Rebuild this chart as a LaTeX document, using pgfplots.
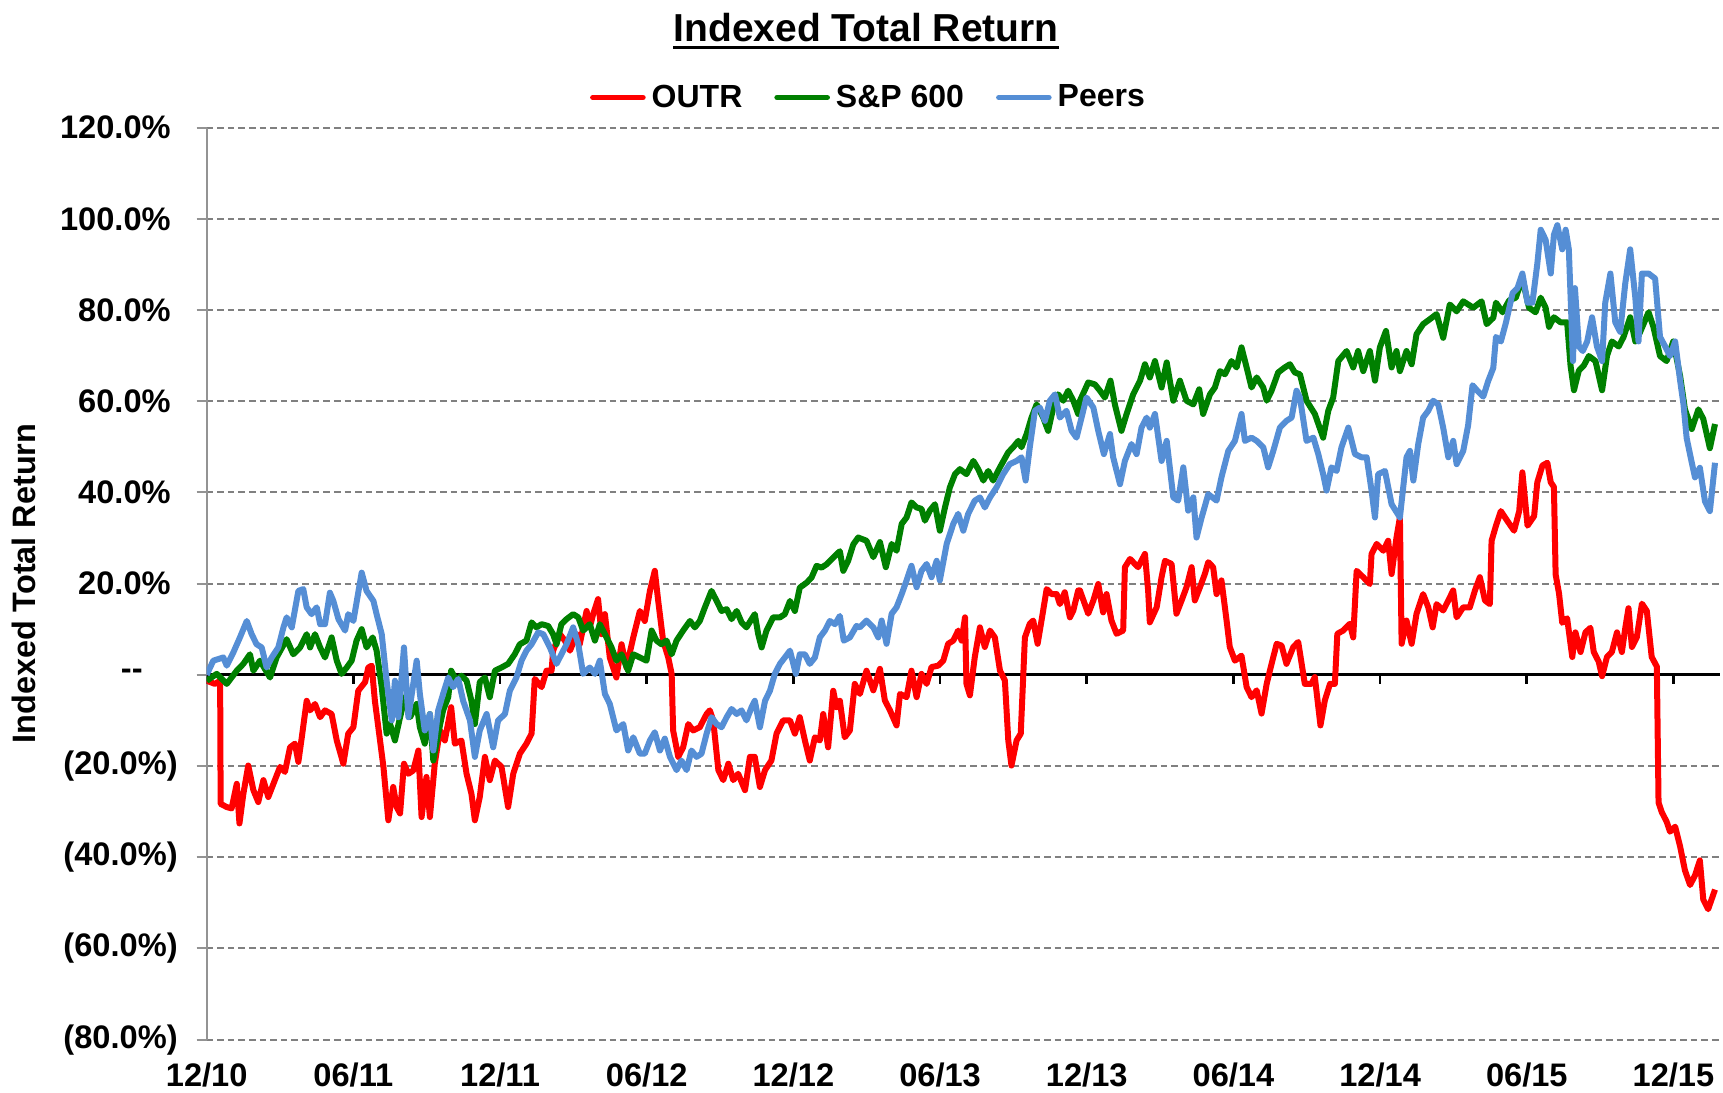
\documentclass[border=0pt]{standalone}
\usepackage{fontspec}
\setmainfont{Liberation Sans}
\usepackage{pgfplots}
\pgfplotsset{compat=1.18}
\definecolor{cred}{RGB}{255,0,0}
\definecolor{cgreen}{RGB}{0,128,0}
\definecolor{cblue}{RGB}{85,142,213}
\begin{document}
\begin{tikzpicture}
\useasboundingbox (-103.35pt,-26.2pt) rectangle (758.15pt,519.8pt);
\begin{axis}[
  at={(0pt,0pt)}, anchor=south west,
  width=756.6pt, height=456pt, scale only axis,
  xmin=0, xmax=61.9, ymin=-80, ymax=120,
  axis x line*=bottom, axis y line*=left,
  x axis line style={draw=none},
  y axis line style={draw=gray!85, line width=1pt},
  xtick={0,6,12,18,24,30,36,42,48,54,60},
  xticklabels={12/10,06/11,12/11,06/12,12/12,06/13,12/13,06/14,12/14,06/15,12/15},
  ytick={-80,-60,-40,-20,0,20,40,60,80,100,120},
  yticklabels={(80.0\%)\kern-3.5pt,(60.0\%)\kern-3.5pt,(40.0\%)\kern-3.5pt,(20.0\%)\kern-3.5pt,{-}{-}\rule{14pt}{0pt},20.0\%,40.0\%,60.0\%,80.0\%,100.0\%,120.0\%},
  xtick style={draw=none},
  ytick style={draw=gray!85, line width=1pt},
  major tick length=5pt, tick align=outside,
  ticklabel style={font=\fontsize{16.3}{19}\selectfont\bfseries},
  yticklabel style={xshift=-9.5pt},
  xticklabel style={yshift=-3pt},
  ymajorgrids,
  grid style={gray, line width=1pt, dash pattern=on 3.3pt off 2pt},
  legend style={at={(0.438,1.033)}, anchor=center, draw=none, fill=none,
    legend columns=3, font=\fontsize{16}{19}\selectfont\bfseries,
    /tikz/every even column/.append style={column sep=14pt},
    /tikz/every odd column/.append style={column sep=1pt}},
  legend image code/.code={\draw[#1, line width=2.8pt, line cap=round] (0pt,0pt) -- (25pt,0pt);},
  every axis plot/.append style={line width=3pt, line join=round},
]
\addplot[black, line width=1.3pt, forget plot] coordinates {(0,0)(61.9,0)};
\foreach \t in {0,6,12,18,24,30,36,42,48,54,60}{
  \edef\tmp{\noexpand\draw[black, line width=1.3pt] (axis cs:\t,0) -- ++(0pt,-4.5pt);}
  \tmp
}
\addplot[cred] coordinates {
(0,-1.3)(0.34,-2.0)(0.55,-1.3)(0.57,-28.3)(0.82,-29)(1.02,-29.3)(1.23,-23.9)(1.34,-32.6)(1.5,-26.1)(1.7,-19.9)(1.91,-25.3)(2.11,-27.9)(2.32,-23.1)(2.52,-26.8)(2.73,-23.9)(3.0,-20.2)(3.2,-21.3)(3.41,-15.9)(3.61,-15.1)(3.75,-19.1)(3.89,-13.7)(4.09,-5.7)(4.23,-7.8)(4.43,-6.4)(4.64,-9.3)(4.84,-7.8)(5.11,-8.6)(5.32,-14.4)(5.59,-19.5)(5.79,-12.9)(6.0,-11.5)(6.2,-3.5)(6.48,-1.6)(6.61,1.6)(6.75,2.0)(6.88,-5.7)(7.09,-14.4)(7.23,-20.2)(7.43,-31.9)(7.63,-24.6)(7.77,-29.0)(7.91,-30.4)(8.07,-19.5)(8.25,-21.7)(8.45,-21.0)(8.66,-16.6)(8.79,-31.2)
(8.99,-22.4)(9.13,-31.2)(9.33,-19.5)(9.54,-12.2)(9.74,-14.4)(10.0,-7.1)(10.15,-15.1)(10.42,-14.4)(10.63,-21.7)(10.83,-26.1)(10.97,-31.9)(11.17,-26.8)(11.38,-18.0)(11.58,-23.1)(11.79,-18.8)(12.06,-20.2)(12.33,-29.0)(12.54,-21.7)(12.81,-17.3)(13.08,-15.1)(13.29,-12.9)(13.42,-0.9)(13.7,-2.7)(13.9,0.9)(14.11,0.9)(14.17,5.3)(14.45,8.9)(14.65,7.5)(14.86,5.3)(15.13,8.9)(15.26,6.7)(15.54,14.0)(15.67,10.4)(15.81,13.3)(16.01,16.6)(16.15,8.9)(16.29,13.3)(16.49,3.8)(16.76,-0.6)(16.97,6.7)(17.17,1.6)(17.45,8.2)(17.72,14.0)
(17.92,11.8)(18.13,18.4)(18.33,22.8)(18.47,16.2)(18.67,7.5)(18.88,3.8)(19.02,0.2)(19.08,-12.2)(19.29,-18.0)(19.49,-15.9)(19.7,-10.8)(19.9,-12.2)(20.17,-11.5)(20.45,-8.6)(20.58,-7.8)(20.72,-10.0)(20.93,-20.9)(21.13,-23.1)(21.34,-19.5)(21.54,-23.1)(21.74,-21.7)(22.02,-25.3)(22.22,-18.0)(22.42,-18.0)(22.63,-24.6)(22.84,-20.9)(23.1,-18.8)(23.31,-12.9)(23.58,-10.0)(23.86,-10.0)(24.06,-12.9)(24.26,-9.3)(24.47,-14.4)(24.67,-18.8)(24.88,-13.7)(25.08,-14.4)(25.22,-8.6)(25.42,-15.9)(25.63,-3.5)(25.76,-7.1)(25.9,-5.7)(26.1,-13.7)(26.31,-12.2)(26.51,-2.0)(26.72,-4.2)(26.99,0.9)
(27.27,-3.4)(27.54,1.3)(27.74,-5.6)(27.95,-7.8)(28.22,-11.1)(28.36,-4.2)(28.63,-4.9)(28.83,0.9)(29.04,-4.9)(29.24,0.2)(29.45,-2.0)(29.65,1.7)(29.92,2.0)(30.13,3.1)(30.33,6.8)(30.54,7.5)(30.74,9.7)(30.88,7.5)(31.02,12.6)(31.08,-2.0)(31.22,-4.5)(31.42,3.9)(31.63,10.4)(31.83,6.1)(32.04,9.7)(32.24,8.2)(32.45,0.9)(32.65,-1.2)(32.79,-14.4)(32.92,-19.9)(33.13,-14.4)(33.3,-12.9)(33.47,8.2)(33.67,11.2)(33.81,11.9)(33.99,6.8)(34.15,11.9)(34.36,18.8)(34.56,17.7)(34.77,17.7)(34.9,15.5)(35.1,18.1)(35.31,12.6)(35.45,14.1)(35.65,18.5)
(35.72,18.5)(36.06,13.4)(36.27,16.3)(36.47,19.9)(36.67,13.7)(36.81,17.7)(37.01,11.9)(37.22,9.0)(37.49,9.7)(37.56,23.6)(37.77,25.4)(38.1,23.6)(38.38,26.5)(38.51,18.5)(38.58,11.5)(38.86,14.8)(39.06,21.4)(39.2,25.0)(39.47,24.3)(39.67,13.4)(39.88,16.3)(40.08,19.2)(40.29,23.6)(40.42,16.3)(40.63,19.2)(40.83,22.1)(40.97,24.7)(41.17,23.6)(41.31,17.7)(41.51,20.7)(41.72,11.9)(41.85,6.1)(42.06,3.1)(42.33,4.2)(42.54,-2.7)(42.74,-4.9)(42.95,-3.4)(43.15,-8.5)(43.36,-2.0)(43.56,2.4)(43.77,6.8)(43.97,6.4)(44.17,2.4)(44.45,6.1)(44.65,7.2)
(44.92,-2.0)(45.19,-2.0)(45.33,-0.5)(45.56,-11.1)(45.74,-5.6)(45.95,-2.0)(46.15,-2.0)(46.25,9.0)(46.49,9.7)(46.76,11.2)(46.9,8.2)(47.04,22.8)(47.31,21.4)(47.58,19.9)(47.65,26.5)(47.86,28.7)(48.13,27.2)(48.33,29.4)(48.47,22.1)(48.67,30.1)(48.81,34.5)(48.88,6.8)(49.08,11.9)(49.29,6.8)(49.49,13.4)(49.76,17.7)(49.97,14.8)(50.15,10.4)(50.31,15.5)(50.58,14.1)(50.79,16.3)(50.99,18.5)(51.13,12.6)(51.4,14.8)(51.67,14.8)(51.88,18.5)(52.08,21.4)(52.29,16.3)(52.49,15.5)(52.56,29.4)
(52.74,32.7)(52.94,35.9)(53.21,33.7)(53.48,31.6)(53.69,35.9)(53.82,44.4)(54.03,32.7)(54.3,34.8)(54.43,42.2)(54.64,45.9)(54.84,46.5)(54.98,42.2)(55.11,41.2)(55.18,22.0)(55.32,17.8)(55.45,11.4)(55.65,12.4)(55.86,3.9)(55.99,9.3)(56.2,5.0)(56.4,9.3)(56.6,10.3)(56.74,5.0)(56.94,2.9)(57.08,-0.3)(57.28,3.9)(57.48,5.0)(57.69,9.3)(57.89,5.0)(58.03,10.3)(58.16,14.6)(58.3,6.1)(58.5,8.2)(58.71,15.6)(58.91,14.0)(59.11,3.9)(59.32,1.8)(59.39,-28.0)(59.52,-30.1)(59.72,-32.2)(59.86,-34.4)(60.07,-33.3)(60.27,-37.6)(60.47,-42.9)(60.68,-46.1)(60.88,-44.0)(61.08,-40.7)(61.22,-49.3)(61.42,-51.4)(61.7,-47.1)
};
\addlegendentry{OUTR}
\addplot[cgreen] coordinates {
(0,-1.3)(0.41,0.2)(0.82,-2.0)(1.23,0.9)(1.5,2.4)(1.77,4.5)(1.91,0.9)(2.18,3.1)(2.59,-0.6)(2.86,3.8)(3.27,7.8)(3.54,4.5)(3.82,6.0)(4.09,8.9)(4.23,6.0)(4.43,8.9)(4.64,6.0)(4.84,3.8)(5.11,8.2)(5.32,3.1)(5.52,0.2)(5.73,1.6)(5.93,3.1)(6.13,7.5)(6.34,10.0)(6.54,6.0)(6.79,8.2)(6.95,5.3)(7.16,-2.7)(7.36,-12.9)(7.5,-10.8)(7.7,-14.4)(7.91,-9.3)(8.11,-4.9)(8.32,-9.3)(8.59,-6.4)
(8.72,-11.5)(8.92,-15.1)(9.13,-8.6)(9.27,-18.8)(9.47,-12.9)(9.67,-7.8)(9.88,-4.9)(10.0,0.9)(10.22,-1.3)(10.42,-0.2)(10.63,-1.3)(10.83,-5.7)(10.97,-10.8)(11.17,-1.6)(11.38,-0.6)(11.58,-4.9)(11.79,0.9)(12.06,1.6)(12.33,2.4)(12.6,4.5)(12.81,6.7)(13.08,7.5)(13.29,11.5)(13.49,10.4)(13.7,11.1)(13.97,10.7)(14.17,8.9)(14.31,6.7)(14.51,11.1)(14.72,12.2)(14.99,13.3)(15.2,12.6)(15.4,9.7)(15.67,11.1)(15.88,7.5)(16.08,11.1)(16.29,8.9)(16.56,6.0)(16.76,3.1)(16.97,4.5)(17.24,0.9)(17.45,4.5)(17.72,3.8)
(17.99,3.1)(18.2,9.7)(18.4,7.5)(18.6,6.7)(18.81,7.5)(19.02,4.5)(19.22,7.5)(19.49,9.7)(19.77,11.8)(19.97,10.4)(20.17,11.8)(20.38,14.8)(20.65,18.4)(20.86,16.2)(21.06,14.0)(21.27,14.4)(21.47,12.2)(21.68,14.0)(21.88,11.5)(22.08,10.4)(22.29,12.2)(22.42,13.3)(22.56,8.9)(22.7,6.0)(22.9,9.7)(23.17,12.6)(23.45,12.6)(23.65,13.3)(23.86,16.2)(24.06,14.0)(24.26,19.1)(24.54,20.2)(24.74,21.3)(24.95,23.9)(25.15,23.5)(25.35,24.2)(25.56,25.3)(25.76,26.4)(25.9,27.1)(26.04,22.8)(26.24,25.0)(26.45,28.6)(26.65,30.1)
(26.99,29.4)(27.27,25.8)(27.54,29.1)(27.78,23.6)(28.02,28.7)(28.22,27.2)(28.43,33.1)(28.63,34.5)(28.83,37.8)(29.04,36.7)(29.24,36.4)(29.38,33.8)(29.58,36.0)(29.79,37.4)(29.99,31.6)(30.2,36.7)(30.4,41.1)(30.61,44.0)(30.81,45.1)(31.08,44.0)(31.36,46.9)(31.56,45.1)(31.77,42.6)(31.97,44.7)(32.17,42.6)(32.45,45.5)(32.79,48.8)(32.99,49.9)(33.2,51.3)(33.33,49.9)(33.54,52.8)(33.74,56.4)(33.95,59.3)(34.22,56.4)(34.42,53.5)(34.63,58.6)(34.83,61.5)(35.04,60.1)(35.24,62.3)(35.45,60.1)(35.65,57.2)
(35.72,60.1)(36.06,64.1)(36.33,63.7)(36.54,62.3)(36.74,60.8)(36.97,64.5)(37.15,59.3)(37.42,53.5)(37.63,57.2)(37.9,61.5)(38.18,64.5)(38.38,68.1)(38.58,65.2)(38.79,68.8)(39.06,63.0)(39.27,68.5)(39.54,60.1)(39.81,64.5)(40.08,60.1)(40.36,59.3)(40.6,62.6)(40.76,57.2)(41.04,61.5)(41.24,63.0)(41.45,66.6)(41.65,65.9)(41.92,68.8)(42.13,67.4)(42.33,71.8)(42.54,67.4)(42.74,63.0)(42.95,65.2)(43.22,63.0)(43.36,60.1)(43.56,62.3)(43.83,66.3)(44.1,67.4)(44.31,68.1)(44.51,66.3)
(44.72,65.9)(44.99,60.1)(45.33,57.2)(45.67,52.0)(45.88,57.9)(46.08,60.8)(46.29,68.8)(46.63,71.0)(46.9,67.4)(47.1,71.0)(47.31,66.6)(47.58,71.0)(47.79,64.5)(47.99,71.8)(48.24,75.4)(48.47,67.4)(48.67,71.0)(48.81,66.6)(49.08,71.0)(49.29,68.1)(49.49,74.7)(49.76,76.9)(50.04,78.0)(50.31,79.1)(50.58,73.9)(50.85,81.2)(51.13,79.7)(51.4,81.9)(51.81,80.5)(52.15,81.9)(52.36,76.9)(52.63,78.3)
(52.74,81.6)(53.01,79.5)(53.28,82.1)(53.55,82.7)(53.82,86.9)(54.09,80.5)(54.36,79.5)(54.57,82.7)(54.77,80.5)(54.91,76.3)(55.11,78.4)(55.38,77.3)(55.65,77.3)(55.79,67.8)(55.93,62.4)(56.13,66.7)(56.33,67.8)(56.54,69.9)(56.81,68.8)(57.08,62.4)(57.28,69.9)(57.48,73.1)(57.76,72.0)(57.96,74.1)(58.23,78.4)(58.44,73.1)(58.64,75.2)(58.98,79.5)(59.18,76.3)(59.45,69.9)(59.72,68.8)(59.99,73.1)(60.27,65.6)(60.47,58.2)(60.75,53.9)(61.02,58.2)(61.22,56.1)(61.49,49.7)(61.7,55.0)
};
\addlegendentry{S\&P 600}
\addplot[cblue] coordinates {
(0,0)(0.27,3.1)(0.68,3.8)(0.82,2.0)(1.09,4.9)(1.36,8.2)(1.64,11.8)(1.84,8.9)(2.04,6.7)(2.25,6.0)(2.45,1.6)(2.66,3.8)(2.93,6.0)(3.14,10.4)(3.27,12.6)(3.48,10.4)(3.75,18.4)(3.95,18.8)(4.09,14.8)(4.29,13.3)(4.5,14.8)(4.64,11.1)(4.84,11.1)(5.04,18.0)(5.18,16.2)(5.39,12.2)(5.66,9.7)(5.79,13.3)(6.0,11.8)(6.34,22.4)(6.54,18.4)(6.82,16.2)(6.95,13.3)(7.16,8.9)(7.36,-1.3)(7.57,-10)(7.7,-1.3)(7.84,-9.3)(8.07,6.0)(8.25,-9.3)(8.59,3.1)
(8.72,-4.2)(8.92,-12.2)(9.13,-8.6)(9.27,-16.6)(9.47,-7.8)(9.67,-4.2)(9.88,-0.6)(10.08,-2.7)(10.29,-0.9)(10.49,-5.7)(10.77,-10.0)(10.97,-18.0)(11.17,-12.2)(11.45,-8.6)(11.72,-15.9)(11.92,-10.0)(12.2,-8.6)(12.4,-3.5)(12.67,-0.6)(12.88,3.1)(13.08,5.3)(13.29,6.7)(13.56,9.3)(13.77,8.9)(14.04,6.0)(14.31,2.4)(14.51,4.5)(14.72,6.7)(14.99,10.4)(15.2,6.7)(15.4,0.2)(15.67,1.6)(15.88,0.2)(16.08,3.1)(16.29,-4.2)(16.49,-6.4)(16.76,-12.2)(17.04,-10.8)(17.24,-16.6)(17.45,-13.7)(17.72,-17.3)
(17.92,-17.3)(18.13,-14.4)(18.33,-12.6)(18.54,-16.6)(18.74,-14.0)(18.95,-18.0)(19.22,-20.9)(19.42,-18.8)(19.63,-20.9)(19.83,-16.6)(20.04,-18.0)(20.24,-17.3)(20.45,-12.9)(20.65,-9.3)(20.86,-10.8)(21.06,-11.5)(21.27,-9.3)(21.47,-7.5)(21.68,-8.6)(21.88,-7.8)(22.08,-10.0)(22.29,-7.1)(22.42,-5.7)(22.63,-11.5)(22.84,-5.7)(23.04,-3.5)(23.24,0.2)(23.45,2.4)(23.65,3.8)(23.86,5.3)(24.1,0.2)(24.26,4.5)(24.47,4.5)(24.67,2.4)(24.88,3.8)(25.08,8.2)(25.29,9.7)(25.49,11.8)(25.7,11.1)(25.9,12.9)(26.06,7.5)(26.31,8.2)(26.58,10.7)
(26.72,10.4)(26.99,11.9)(27.27,10.4)(27.47,8.2)(27.61,11.9)(27.81,6.8)(28.02,13.4)(28.22,14.8)(28.43,17.7)(28.63,20.7)(28.83,23.9)(29.04,19.2)(29.24,22.8)(29.45,24.3)(29.65,21.4)(29.86,25.0)(29.99,20.7)(30.27,28.7)(30.54,33.1)(30.74,35.3)(30.95,31.6)(31.15,35.3)(31.42,38.2)(31.63,38.9)(31.83,36.7)(32.04,38.9)(32.31,41.1)(32.58,44.0)(32.85,46.2)(33.13,46.9)(33.33,47.7)(33.5,42.6)(33.67,49.9)(33.88,57.9)(34.08,58.6)(34.29,55.7)(34.49,60.1)(34.7,61.5)(34.9,56.4)(35.17,57.9)(35.38,53.5)(35.58,52.0)
(35.72,55.0)(35.99,60.8)(36.27,58.6)(36.47,53.5)(36.7,48.4)(36.95,52.8)(37.08,47.7)(37.36,41.8)(37.56,46.9)(37.83,50.6)(38.04,48.4)(38.24,54.2)(38.45,56.4)(38.58,54.2)(38.79,57.2)(39.06,46.9)(39.27,51.3)(39.54,38.9)(39.74,38.2)(39.95,45.5)(40.15,36.0)(40.36,38.9)(40.49,30.1)(40.7,34.5)(40.97,39.6)(41.31,38.2)(41.51,43.3)(41.79,49.1)(42.06,51.3)(42.33,57.2)(42.47,51.3)(42.74,52.0)(42.95,51.3)(43.22,49.9)(43.42,45.5)(43.63,49.1)(43.9,54.2)(44.17,55.7)(44.38,56.4)(44.58,62.3)
(44.72,60.8)(44.99,51.3)(45.27,52.0)(45.47,48.4)(45.67,44.0)(45.81,40.4)(46.01,45.5)(46.22,44.7)(46.42,49.9)(46.7,54.2)(46.97,48.4)(47.24,47.7)(47.45,47.7)(47.65,40.4)(47.79,34.5)(47.92,44.0)(48.2,44.7)(48.47,37.4)(48.81,34.5)(49.08,47.7)(49.22,49.1)(49.36,42.6)(49.56,50.6)(49.76,56.4)(49.97,57.9)(50.17,60.1)(50.38,59.3)(50.58,54.2)(50.79,47.7)(50.99,51.3)(51.13,46.2)(51.4,49.1)(51.6,54.7)(51.78,63.5)(52.01,62.1)(52.22,61.0)(52.42,64.4)(52.63,67.3)
(52.74,74.1)(52.94,73.1)(53.15,77.3)(53.42,83.7)(53.62,84.8)(53.82,88.0)(54.03,81.6)(54.23,81.6)(54.43,90.1)(54.57,97.6)(54.77,95.4)(54.98,88.0)(55.11,96.5)(55.25,98.6)(55.45,93.3)(55.59,97.6)(55.72,93.3)(55.89,68.8)(55.97,84.8)(56.13,72.0)(56.29,71.0)(56.47,73.1)(56.67,78.4)(56.87,72.0)(57.08,68.8)(57.21,81.6)(57.42,88.0)(57.62,77.3)(57.82,75.2)(58.03,85.9)(58.23,93.3)(58.44,82.7)(58.57,73.1)(58.71,88.0)(58.98,88.0)(59.25,86.9)(59.45,74.1)(59.66,72.0)(59.86,69.9)(60.07,73.1)(60.27,64.6)(60.41,59.3)(60.54,51.9)(60.75,46.5)(60.88,43.3)(61.08,45.4)(61.29,38.0)(61.49,35.9)(61.7,46.5)
};
\addlegendentry{Peers}
\end{axis}
\node[anchor=base, inner sep=0pt, font=\fontsize{19.5}{23}\selectfont\bfseries] (T) at (329.7pt,498.9pt) {Indexed Total Return};
\draw[line width=1.5pt] ([yshift=-3pt]T.base west) -- ([yshift=-3pt]T.base east);
\node[rotate=90, font=\fontsize{16.2}{19}\selectfont\bfseries] at (-91.3pt,228pt) {Indexed Total Return};
\end{tikzpicture}
\end{document}
